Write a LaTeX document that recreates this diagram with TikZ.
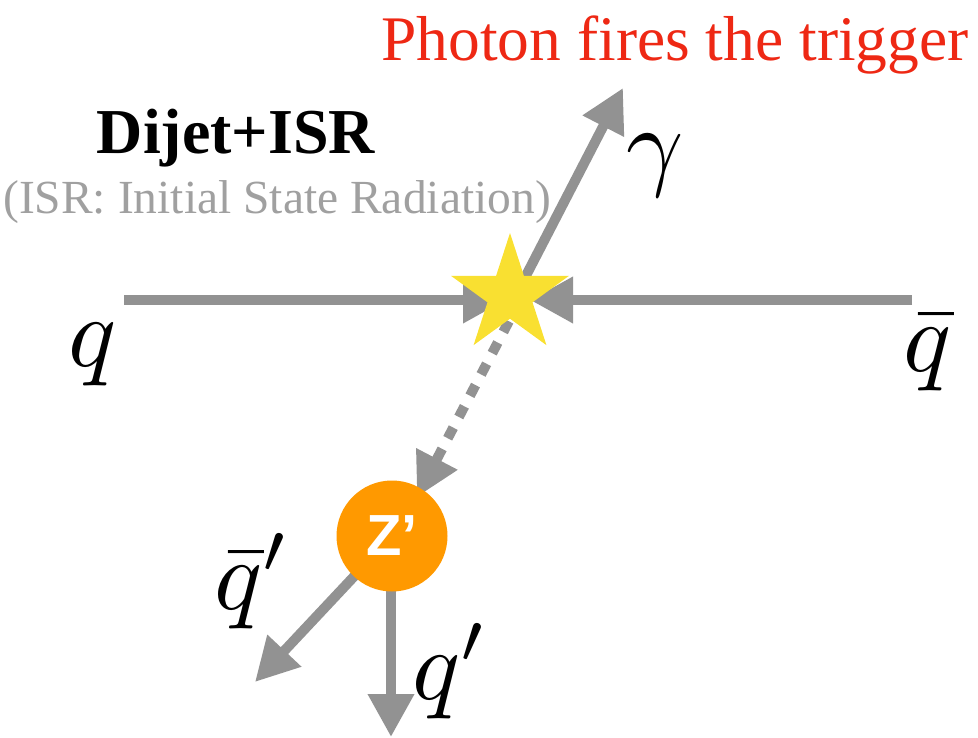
\documentclass[tikz,border=0pt]{standalone}
\usepackage{fontspec}
\setmainfont{Liberation Serif}
\newfontfamily\zfont{Liberation Sans}
\usetikzlibrary{arrows.meta,shapes.geometric}
\definecolor{arrowgray}{RGB}{146,146,146}
\definecolor{subgray}{RGB}{160,160,160}
\definecolor{staryellow}{RGB}{249,224,49}
\definecolor{zorange}{RGB}{255,153,0}
\definecolor{titlered}{RGB}{238,40,20}
\begin{document}
\begin{tikzpicture}[x=1pt,y=-1pt,
  particle/.style={draw=arrowgray, line width=10pt, -{Triangle[length=43pt,width=44pt]}},
  virtual/.style={particle, dash pattern=on 12pt off 12pt},
  mathlabel/.style={inner sep=0pt, scale=10},
  zbubble/.style={circle, fill=zorange, minimum size=111pt, inner sep=0pt, text=white,
    font=\zfont\bfseries\fontsize{58}{58}\selectfont},
  vertexstar/.style={star, star points=5, star point ratio=2.618, minimum size=124pt,
    inner sep=0pt, fill=staryellow}]
\useasboundingbox (0,0) rectangle (978,737);
% coordinates
\coordinate (vtx) at (510,295);
\coordinate (zc) at (392,536);
\coordinate (qstart) at (124,300);
\coordinate (qtip) at (506,300);
\coordinate (qbstart) at (912,300);
\coordinate (qbtip) at (530,300);
\coordinate (gstart) at (516,295);
\coordinate (gtip) at (623,88);
\coordinate (zstart) at (520,300);
\coordinate (ztip) at (417,497);
\coordinate (qptip) at (391,737);
\coordinate (qbptip) at (255,682);
% lines
\draw[particle] (qstart) -- (qtip);
\draw[particle] (qbstart) -- (qbtip);
\draw[particle] (gstart) -- (gtip);
\draw[virtual] (zstart) -- (ztip);
\draw[particle] (zc) -- (qbptip);
\draw[particle] (zc -| qptip) -- (qptip);
% Z' bubble and star on top
\node[zbubble] (z) at (zc) {Z’};
\node[vertexstar] (star) at (vtx) {};
% labels
\node[mathlabel, anchor=base] (lq) at (93,366) {$q$};
\node[mathlabel, anchor=base] (lqb) at (928,371) {$\bar{q}$};
\node[mathlabel, anchor=base] (lg) at (655,177) {$\gamma$};
\node[mathlabel, anchor=base west] (lqbp) at (212,609) {$\bar{q}'$};
\node[mathlabel, anchor=base west] (lqp) at (410,699) {$q'$};
\node[anchor=base, inner sep=0pt, text=titlered, font=\fontsize{63.5}{70}\selectfont] (title) at (675,60) {Photon fires the trigger};
\node[anchor=base, inner sep=0pt, font=\bfseries\fontsize{64}{70}\selectfont] (dj) at (236,153) {Dijet+ISR};
\node[anchor=base, inner sep=0pt, text=subgray, font=\fontsize{47.5}{50}\selectfont] (isr) at (277,213) {(ISR: Initial State Radiation)};
\end{tikzpicture}
\end{document}
